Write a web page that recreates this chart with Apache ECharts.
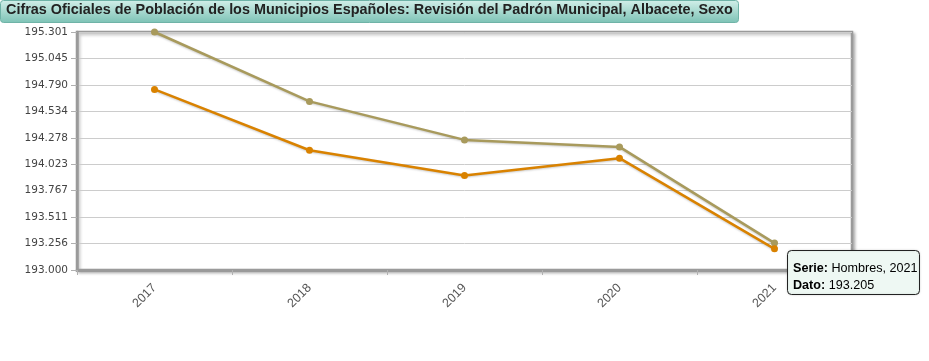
<!DOCTYPE html>
<html>
<head>
<meta charset="utf-8">
<script src="https://cdn.jsdelivr.net/npm/echarts@6/dist/echarts.min.js"></script>
<style>
html,body{margin:0;padding:0;background:#fff;}
#chart{width:929px;height:361px;}
</style>
</head>
<body>
<div id="chart"></div>
<script>
var titleText = 'Cifras Oficiales de Población de los Municipios Españoles: Revisión del Padrón Municipal, Albacete, Sexo';
var years = ['2017', '2018', '2019', '2020', '2021'];
var mujeres = [195301, 194630, 194258, 194190, 193260];
var hombres = [194746, 194158, 193913, 194081, 193205];
var yMin = 193000;
var yMax = 195301;
var ySteps = 9;
var tipSeries = 'Hombres';
var tipIndex = 4;

function fmt(v) {
  return String(Math.round(v)).replace(/\B(?=(\d{3})+(?!\d))/g, '.');
}

var chart = echarts.init(document.getElementById('chart'), null, {renderer: 'canvas'});
var option = {
  animation: false,
  backgroundColor: '#fff',
  grid: {
    left: 77, right: 77, top: 32, bottom: 91,
    show: true,
    backgroundColor: '#fff',
    borderColor: '#9a9a9a',
    borderWidth: 2.5,
    shadowColor: 'rgba(0,0,0,0.25)',
    shadowBlur: 3,
    shadowOffsetX: 2,
    shadowOffsetY: 2
  },
  xAxis: {
    type: 'category',
    data: years,
    boundaryGap: true,
    axisLine: {show: true, lineStyle: {color: '#9a9a9a', width: 3}},
    axisTick: {show: true, length: 5, lineStyle: {color: '#b0b0b0'}},
    axisLabel: {rotate: 45, color: '#555', fontFamily: 'Liberation Sans, Arial, sans-serif', fontSize: 12.5, margin: 16},
    splitLine: {show: false}
  },
  yAxis: {
    type: 'value',
    min: yMin,
    max: yMax,
    interval: (yMax - yMin) / ySteps,
    axisLine: {show: true, lineStyle: {color: '#9a9a9a', width: 2.5}},
    axisTick: {show: true, length: 6, lineStyle: {color: '#b0b0b0'}},
    axisLabel: {color: '#444', fontFamily: 'DejaVu Sans, Verdana, sans-serif', fontSize: 10.5, margin: 9, formatter: fmt},
    splitLine: {show: true, lineStyle: {color: '#cccccc', width: 1}}
  },
  series: [
    {
      name: 'Mujeres', type: 'line', data: mujeres,
      symbol: 'circle', symbolSize: 7,
      itemStyle: {color: '#a89a5c'},
      lineStyle: {width: 2.5, color: '#a89a5c', shadowColor: 'rgba(0,0,0,0.2)', shadowBlur: 2, shadowOffsetY: 1},
      z: 3
    },
    {
      name: 'Hombres', type: 'line', data: hombres,
      symbol: 'circle', symbolSize: 7,
      itemStyle: {color: '#d98200'},
      lineStyle: {width: 2.5, color: '#d98200', shadowColor: 'rgba(0,0,0,0.2)', shadowBlur: 2, shadowOffsetY: 1},
      z: 4
    }
  ],
  graphic: [
    {
      type: 'rect', left: 0, top: 0, z: 10,
      shape: {width: 738, height: 22, r: 3},
      style: {
        fill: new echarts.graphic.LinearGradient(0, 0, 0, 1, [
          {offset: 0, color: '#d2efe9'},
          {offset: 1, color: '#7cc2b5'}
        ]),
        stroke: '#6fb3a7', lineWidth: 1
      }
    },
    {
      type: 'text', left: 6, top: 3, z: 11,
      style: {text: titleText, fill: '#222', font: 'bold 14.4px "Liberation Sans", Arial, sans-serif'}
    },
    {
      type: 'rect', left: 787, top: 250, z: 10,
      shape: {width: 132, height: 44, r: 4},
      style: {fill: '#eef8f3', stroke: '#222', lineWidth: 1, shadowColor: 'rgba(0,0,0,0.15)', shadowBlur: 2}
    },
    {
      type: 'text', left: 793, top: 260, z: 11,
      style: {
        text: '{b|Serie:} ' + tipSeries + ', ' + years[tipIndex] + '\n{b|Dato:} ' + fmt(hombres[tipIndex]),
        fill: '#000',
        font: '12.6px "Liberation Sans", Arial, sans-serif',
        lineHeight: 17,
        rich: {b: {fontWeight: 'bold', fontSize: 12.6, fontFamily: 'Liberation Sans, Arial, sans-serif', fill: '#000'}}
      }
    }
  ]
};
chart.setOption(option);
</script>
</body>
</html>
